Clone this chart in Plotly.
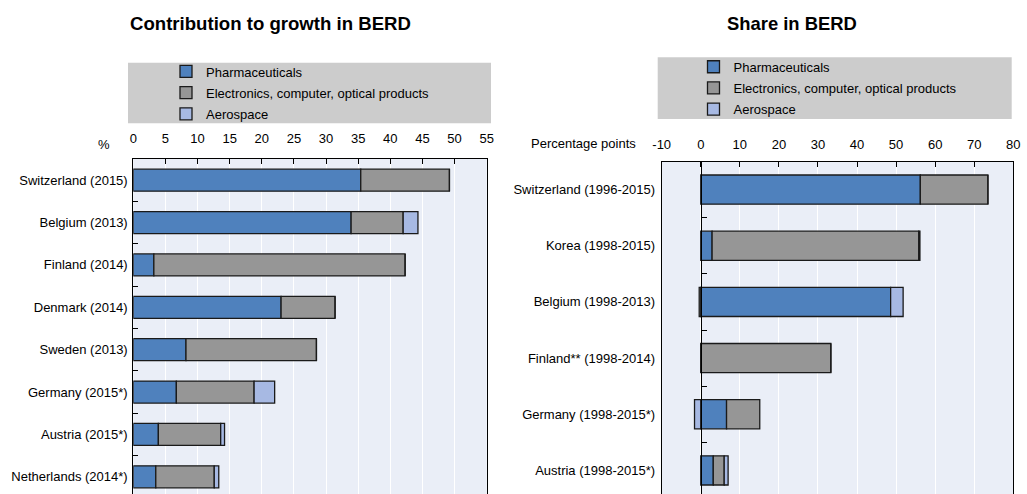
import plotly.graph_objects as go

W, H = 1027, 494

# ---------------- data ----------------
left_countries = ["Switzerland (2015)", "Belgium (2013)", "Finland (2014)", "Denmark (2014)",
                  "Sweden (2013)", "Germany (2015*)", "Austria (2015*)", "Netherlands (2014*)"]
left_pharma = [35.4, 33.9, 3.2, 23.0, 8.2, 6.7, 3.9, 3.5]
left_elec = [13.8, 8.1, 39.1, 8.4, 20.3, 12.1, 9.7, 9.1]
left_aero = [0.0, 2.3, 0.0, 0.0, 0.0, 3.2, 0.6, 0.7]

right_countries = ["Switzerland (1996-2015)", "Korea (1998-2015)", "Belgium (1998-2013)",
                   "Finland** (1998-2014)", "Germany (1998-2015*)", "Austria (1998-2015*)"]
right_pharma = [56.2, 2.9, 48.6, 0.0, 6.6, 3.2]
right_elec = [17.3, 52.9, -0.4, 33.3, 8.5, 2.8]
right_aero = [0.0, 0.3, 3.2, 0.0, -1.6, 1.0]

series_names = ["Pharmaceuticals", "Electronics, computer, optical products", "Aerospace"]
series_colors = ["#4F81BD", "#969696", "#A7B9E3"]

left_ticks = list(range(0, 56, 5))
left_ticktext = [str(v) for v in left_ticks]
right_ticks = list(range(-10, 81, 10))
right_ticktext = [str(v) for v in right_ticks]  # plain hyphen for negatives

# ---------------- layout geometry (pixels) ----------------
FONT = "Liberation Sans"
BG = "#EAEEF7"
OUTLINE = "#1a1a1a"


def px_x(p):
    return p / W


def px_y(p):
    return 1 - p / H


L_x0, L_x1 = 133.3, 486.7
R_x0, R_x1 = 661.7, 1013.3
L_top, R_top = 159.0, 161.5

fig = go.Figure()

for i, (name, vals, col) in enumerate(zip(series_names, [left_pharma, left_elec, left_aero],
                                          series_colors)):
    fig.add_trace(go.Bar(x=vals, y=left_countries, orientation="h", name=name,
                         marker=dict(color=col, line=dict(color=OUTLINE, width=1.3)),
                         xaxis="x", yaxis="y", legend="legend", legendgroup=f"L{i}",
                         hoverinfo="skip"))

for i, (name, vals, col) in enumerate(zip(series_names, [right_pharma, right_elec, right_aero],
                                          series_colors)):
    fig.add_trace(go.Bar(x=vals, y=right_countries, orientation="h", name=name,
                         marker=dict(color=col, line=dict(color=OUTLINE, width=1.3)),
                         xaxis="x2", yaxis="y2", legend="legend2", legendgroup=f"R{i}",
                         hoverinfo="skip"))

# helper (invisible) trace so the category tick axis at zero is drawn
fig.add_trace(go.Scatter(x=[None] * len(right_countries), y=right_countries, mode="markers",
                         marker=dict(opacity=0), xaxis="x2", yaxis="y3",
                         showlegend=False, hoverinfo="skip"))

# window bottom cuts through the last category
l_range = [7.406, -0.5]
r_range = [5.42, -0.5]

axis_font = dict(family=FONT, size=13, color="#000000")
zero_px = R_x0 + (R_x1 - R_x0) * 10 / 90

legend_common = dict(xanchor="left", yanchor="top", bgcolor="rgba(0,0,0,0)",
                     font=dict(family=FONT, size=13), traceorder="grouped",
                     tracegroupgap=1.3, itemclick=False, itemdoubleclick=False)

fig.update_layout(
    template="none",
    width=W, height=H,
    margin=dict(l=0, r=0, t=0, b=0, autoexpand=False),
    paper_bgcolor="white",
    plot_bgcolor=BG,
    barmode="relative",
    bargap=0.48,
    showlegend=True,
    font=dict(family=FONT, size=13, color="#000000"),
    xaxis=dict(domain=[px_x(L_x0), px_x(L_x1)], anchor="y", side="top", range=[0, 55],
               tickvals=left_ticks, ticktext=left_ticktext, ticks="inside", ticklen=5,
               tickcolor="black", ticklabelstandoff=10,
               showline=True, linecolor="black", linewidth=1, showgrid=True,
               gridcolor="white", gridwidth=1, zeroline=False, tickfont=axis_font,
               automargin=False, fixedrange=True),
    yaxis=dict(domain=[0, px_y(L_top)], anchor="x", type="category",
               categoryorder="array", categoryarray=left_countries, range=l_range,
               tickson="boundaries", ticks="inside", ticklen=5, tickcolor="black",
               ticklabelstandoff=2,
               showline=True, mirror=True, linecolor="black", linewidth=1,
               showgrid=False, zeroline=False, tickfont=axis_font,
               automargin=False, fixedrange=True),
    xaxis2=dict(domain=[px_x(R_x0), px_x(R_x1)], anchor="y2", side="top", range=[-10, 80],
                tickvals=right_ticks, ticktext=right_ticktext, ticks="inside", ticklen=5,
                tickcolor="black", ticklabelstandoff=6,
                showline=True, linecolor="black", linewidth=1,
                showgrid=True, gridcolor="white", gridwidth=1, zeroline=False,
                tickfont=axis_font, automargin=False, fixedrange=True),
    yaxis2=dict(domain=[0, px_y(R_top)], anchor="x2", type="category",
                categoryorder="array", categoryarray=right_countries, range=r_range,
                ticks="", ticklabelstandoff=3,
                showline=True, mirror=True, linecolor="black", linewidth=1,
                showgrid=False, zeroline=False, tickfont=axis_font,
                automargin=False, fixedrange=True),
    yaxis3=dict(overlaying="y2", anchor="free", position=px_x(zero_px), type="category",
                categoryorder="array", categoryarray=right_countries, range=r_range,
                tickson="boundaries", ticks="inside", ticklen=5, tickcolor="black",
                showticklabels=False, showline=True, linecolor="black", linewidth=1,
                showgrid=False, zeroline=False, automargin=False, fixedrange=True),
    legend=dict(x=px_x(166), y=px_y(56.5), **legend_common),
    legend2=dict(x=px_x(693.5), y=px_y(51.8), **legend_common),
    shapes=[
        dict(type="rect", xref="paper", yref="paper", layer="below",
             x0=px_x(128), x1=px_x(491), y0=px_y(123.3), y1=px_y(62.7),
             fillcolor="#CCCCCC", line=dict(width=0)),
        dict(type="rect", xref="paper", yref="paper", layer="below",
             x0=px_x(657.7), x1=px_x(1011.7), y0=px_y(119), y1=px_y(57.3),
             fillcolor="#CCCCCC", line=dict(width=0)),
    ],
    annotations=[
        dict(text="<b>Contribution to growth in BERD</b>", xref="paper", yref="paper",
             x=px_x(270), y=px_y(23), xanchor="center", yanchor="middle", showarrow=False,
             font=dict(family=FONT, size=18.6, color="#000000")),
        dict(text="<b>Share in BERD</b>", xref="paper", yref="paper",
             x=px_x(792), y=px_y(23), xanchor="center", yanchor="middle", showarrow=False,
             font=dict(family=FONT, size=18.4, color="#000000")),
        dict(text="%", xref="paper", yref="paper", x=px_x(112), y=px_y(145),
             xanchor="right", yanchor="middle", showarrow=False,
             font=dict(family=FONT, size=13, color="#000000")),
        dict(text="Percentage points", xref="paper", yref="paper", x=px_x(638), y=px_y(143),
             xanchor="right", yanchor="middle", showarrow=False,
             font=dict(family=FONT, size=13, color="#000000")),
    ],
)

fig.write_html("out.html",
               config={"displayModeBar": False, "staticPlot": False},
               post_script="document.body.style.margin='0';document.body.style.overflow='hidden';")
